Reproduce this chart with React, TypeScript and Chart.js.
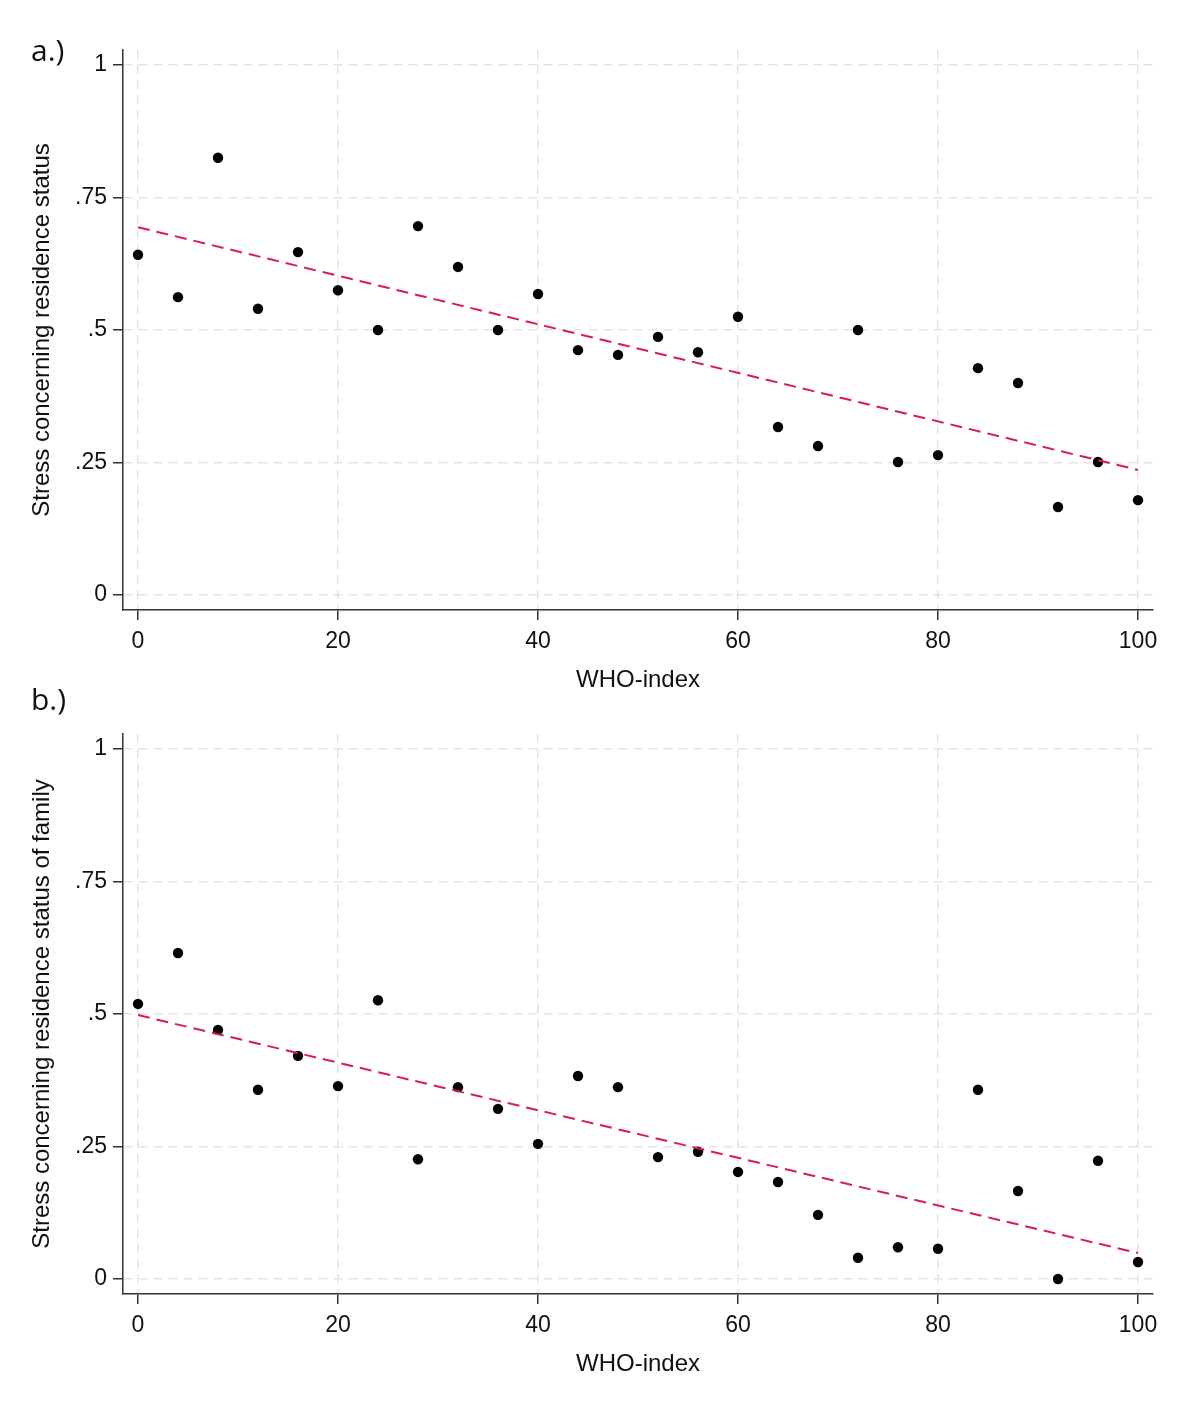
import { useEffect, useRef } from 'react';
import { Chart, registerables } from 'chart.js';

Chart.register(...registerables);

// WHO-index bins (x) and mean stress per bin (y)
const WHO_INDEX = [0, 4, 8, 12, 16, 20, 24, 28, 32, 36, 40, 44, 48, 52, 56, 60, 64, 68, 72, 76, 80, 84, 88, 92, 96, 100];
const STRESS_SELF = [
  0.642, 0.562, 0.825, 0.540, 0.647, 0.575, 0.500, 0.696, 0.619, 0.500, 0.568, 0.462, 0.453,
  0.487, 0.458, 0.525, 0.317, 0.281, 0.500, 0.251, 0.264, 0.428, 0.400, 0.166, 0.251, 0.179,
];
const STRESS_FAMILY = [
  0.519, 0.615, 0.470, 0.357, 0.421, 0.364, 0.526, 0.226, 0.362, 0.321, 0.255, 0.383, 0.362,
  0.230, 0.240, 0.202, 0.183, 0.121, 0.040, 0.060, 0.057, 0.357, 0.166, 0.000, 0.223, 0.032,
];
// fitted line end points at WHO-index 0 and 100
const FIT_X = [0, 100];
const FIT_SELF = [0.694, 0.236];
const FIT_FAMILY = [0.498, 0.049];

const X_TICKS = [0, 20, 40, 60, 80, 100];
const Y_TICKS = [0, 0.25, 0.5, 0.75, 1];

const FONT_FAMILY = '"Liberation Sans", Arial, sans-serif';
const W = 1200;
const H = 724;

function yLabel(v: number) {
  if (v === 0) return '0';
  if (v === 1) return '1';
  return String(v).replace('0.', '.');
}

function Panel({ values, fit, yTitle }: { values: number[]; fit: number[]; yTitle: string }) {
  const canvasRef = useRef<HTMLCanvasElement>(null);
  const chartRef = useRef<Chart | null>(null);

  useEffect(() => {
    if (!canvasRef.current) return;
    const existing = Chart.getChart(canvasRef.current);
    if (existing) existing.destroy();
    chartRef.current?.destroy();

    const gridCommon = {
      color: '#e4e4e4',
      lineWidth: 1.5,
      tickColor: '#333',
      tickLength: 10,
      tickWidth: 1.5,
      tickBorderDash: [],
    };
    const borderCommon = { display: true, color: '#333', width: 1.5, dash: [9, 6] };

    chartRef.current = new Chart(canvasRef.current, {
      type: 'scatter',
      data: {
        datasets: [
          {
            type: 'line',
            data: FIT_X.map((x, i) => ({ x, y: fit[i] })),
            borderColor: '#d81b5a',
            borderWidth: 2,
            borderDash: [12, 7],
            pointRadius: 0,
            fill: false,
          },
          {
            type: 'scatter',
            data: WHO_INDEX.map((x, i) => ({ x, y: values[i] })),
            backgroundColor: '#000',
            borderWidth: 0,
            pointRadius: 5.2,
          },
        ],
      },
      options: {
        responsive: false,
        animation: false,
        layout: { padding: { top: 50, right: 47, left: 0, bottom: 0 } },
        plugins: { legend: { display: false }, tooltip: { enabled: false } },
        scales: {
          x: {
            type: 'linear',
            min: -1.5,
            max: 101.5,
            afterBuildTicks: (s: any) => { s.ticks = X_TICKS.map(v => ({ value: v })); },
            afterFit: (s: any) => { s.height = H - 610; },
            grid: gridCommon,
            border: borderCommon,
            ticks: { color: '#111', padding: 8, maxRotation: 0, font: { family: FONT_FAMILY, size: 23 } },
            title: {
              display: true,
              text: 'WHO-index',
              color: '#111',
              font: { family: FONT_FAMILY, size: 24 },
              padding: { top: 0, bottom: 29 },
            },
          },
          y: {
            type: 'linear',
            min: -15 / 530,
            max: 1 + 15 / 530,
            afterBuildTicks: (s: any) => { s.ticks = Y_TICKS.map(v => ({ value: v })); },
            afterFit: (s: any) => { s.width = 123; },
            grid: gridCommon,
            border: borderCommon,
            ticks: {
              color: '#111',
              padding: 6,
              font: { family: FONT_FAMILY, size: 23 },
              callback: (v: any) => yLabel(Number(v)),
            },
            title: {
              display: true,
              text: yTitle,
              color: '#111',
              font: { family: FONT_FAMILY, size: 24 },
              padding: { top: 27.6, bottom: 0 },
            },
          },
        },
      },
    } as any);

    return () => { chartRef.current?.destroy(); chartRef.current = null; };
  }, [values, fit, yTitle]);

  return <canvas ref={canvasRef} width={W} height={H} style={{ width: W, height: H, display: 'block' }} />;
}

const labelStyle = {
  position: 'absolute' as const,
  left: 31,
  fontFamily: '"Open Sans", sans-serif',
  fontSize: 30,
  lineHeight: '30px',
  color: '#111',
};

export default function App() {
  return (
    <div style={{ position: 'absolute', left: 0, top: 0, width: 1200, height: 1408, background: '#fff', overflow: 'hidden' }}>
      <div style={{ position: 'absolute', left: 0, top: 0 }}>
        <Panel values={STRESS_SELF} fit={FIT_SELF} yTitle="Stress concerning residence status" />
      </div>
      <div style={{ position: 'absolute', left: 0, top: 684 }}>
        <Panel values={STRESS_FAMILY} fit={FIT_FAMILY} yTitle="Stress concerning residence status of family" />
      </div>
      <div style={{ ...labelStyle, top: 35 }}>a.)</div>
      <div style={{ ...labelStyle, top: 684 }}>b.)</div>
    </div>
  );
}
